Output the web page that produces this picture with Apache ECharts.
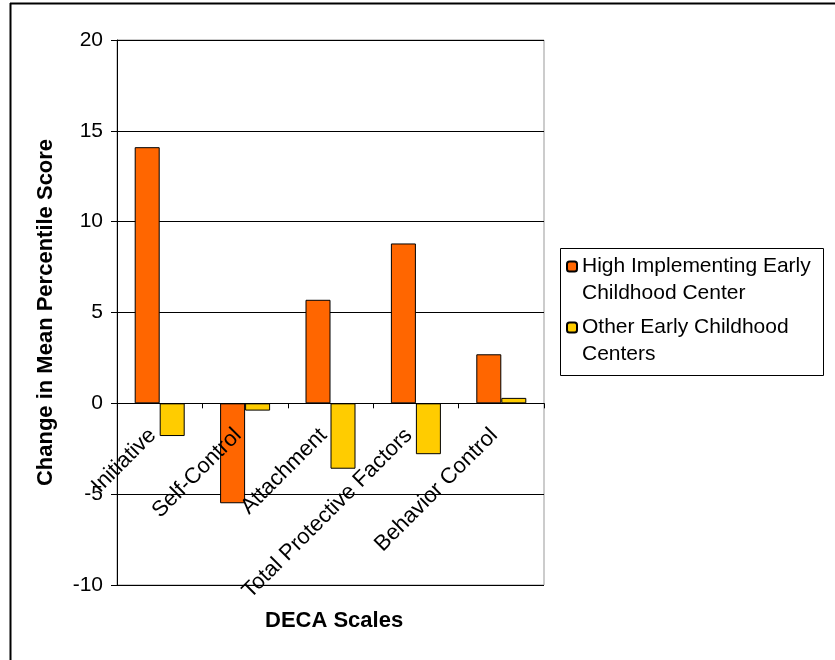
<!DOCTYPE html>
<html>
<head>
<meta charset="utf-8">
<script src="https://cdn.jsdelivr.net/npm/echarts@6/dist/echarts.min.js"></script>
<style>
  html, body { margin: 0; padding: 0; background: #fff; }
  #chart { width: 835px; height: 660px; }
</style>
</head>
<body>
<div id="chart"></div>
<script>
// DECA scales
var categories = ['Initiative', 'Self-Control', 'Attachment', 'Total Protective Factors', 'Behavior Control']
var highImplementing = [14.1, -5.5, 5.7, 8.8, 2.7]
var otherCenters = [-1.8, -0.4, -3.6, -2.8, 0.3]
var seriesNames = ['High Implementing Early Childhood Center', 'Other Early Childhood Centers']
// leading empty line keeps the icon next to the first line of text
var legendLines = {
  'High Implementing Early Childhood Center': '\nHigh Implementing Early\nChildhood Center',
  'Other Early Childhood Centers': '\nOther Early Childhood\nCenters'
}

var font = 'Arial, "Liberation Sans", sans-serif'
var chart = echarts.init(document.getElementById('chart'))

chart.setOption({
  animation: false,
  backgroundColor: '#fff',
  grid: {
    left: 117,
    right: 291,
    top: 40,
    bottom: 75,
    outerBoundsMode: 'none',
    containLabel: false,
    show: true,
    borderColor: '#999',
    borderWidth: 1
  },
  legend: {
    orient: 'vertical',
    left: 566,
    top: 226,
    padding: 0,
    itemWidth: 10,
    itemHeight: 10,
    itemGap: -20,
    data: seriesNames,
    formatter: function(name) {
      return legendLines[name]
    },
    textStyle: {
      fontFamily: font,
      fontSize: 21,
      color: '#000',
      lineHeight: 27
    }
  },
  xAxis: {
    type: 'category',
    data: categories,
    z: 10, // labels are drawn over the bars
    axisLine: { onZero: true, lineStyle: { color: '#000', width: 1 } },
    axisTick: { show: true, alignWithLabel: false, length: 5, lineStyle: { color: '#000' } },
    axisLabel: {
      rotate: 45,
      interval: 0,
      margin: -160, // labels sit just under the zero line, as in the original
      padding: [0, 10, 0, 0],
      hideOverlap: false,
      fontFamily: font,
      fontSize: 22,
      color: '#000'
    },
    splitLine: { show: false }
  },
  yAxis: {
    type: 'value',
    min: -10,
    max: 20,
    interval: 5,
    name: 'Change in Mean Percentile Score',
    nameLocation: 'middle',
    nameGap: 60,
    nameTextStyle: {
      fontFamily: font,
      fontSize: 22,
      fontWeight: 'bold',
      color: '#000'
    },
    axisLine: { show: true, lineStyle: { color: '#000', width: 1 } },
    axisTick: { show: true, length: 6, lineStyle: { color: '#000' } },
    axisLabel: {
      margin: 14,
      fontFamily: font,
      fontSize: 21,
      color: '#000'
    },
    splitLine: { show: true, lineStyle: { color: '#000', width: 1 } }
  },
  series: [
    {
      name: seriesNames[0],
      type: 'bar',
      data: highImplementing,
      barWidth: 25,
      barGap: '0%',
      itemStyle: { color: '#FF6600', borderColor: '#000', borderWidth: 1 }
    },
    {
      name: seriesNames[1],
      type: 'bar',
      data: otherCenters,
      barWidth: 25,
      barGap: '0%',
      itemStyle: { color: '#FFCC00', borderColor: '#000', borderWidth: 1 }
    }
  ],
  graphic: [
    {
      type: 'text',
      left: 331 - 66,
      top: 610,
      style: {
        text: 'DECA Scales',
        fontFamily: font,
        fontSize: 22,
        fontWeight: 'bold',
        fill: '#000'
      }
    },
    {
      type: 'rect',
      shape: { x: 560.5, y: 248.5, width: 263, height: 127 },
      style: { fill: null, stroke: '#000', lineWidth: 1 },
      z: 100
    },
    {
      type: 'line',
      shape: { x1: 10.5, y1: 3, x2: 10.5, y2: 660 },
      style: { stroke: '#000', lineWidth: 2 }
    },
    {
      type: 'line',
      shape: { x1: 10, y1: 3.5, x2: 835, y2: 3.5 },
      style: { stroke: '#000', lineWidth: 2 }
    }
  ]
})
</script>
</body>
</html>
